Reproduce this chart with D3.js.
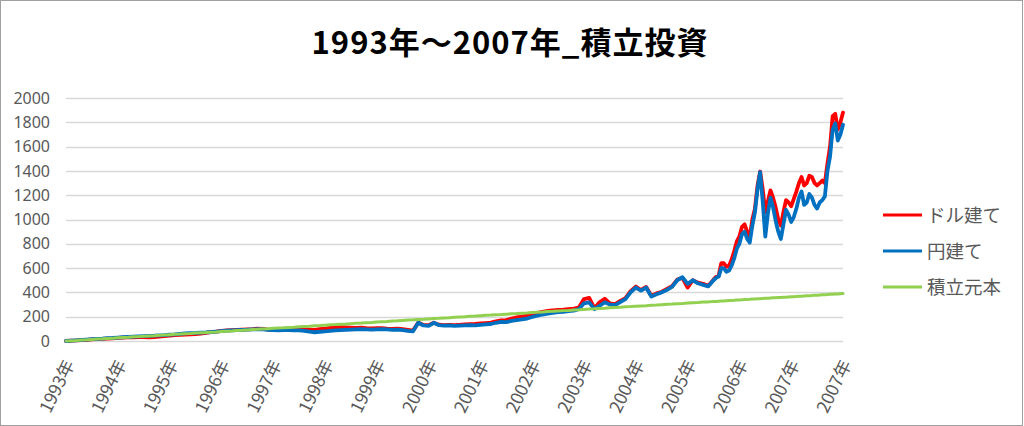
<!DOCTYPE html>
<html><head><meta charset="utf-8">
<script src="https://cdn.jsdelivr.net/npm/d3@7"></script>
<style>html,body{margin:0;padding:0;background:#fff;}svg{display:block;}</style>
</head><body>
<svg id="chart" width="1024" height="426"></svg>
<script>
const titleText = "1993年～2007年_積立投資";
const xTickLabels = ["1993年","1994年","1995年","1996年","1997年","1998年","1999年","2000年","2001年","2002年","2003年","2004年","2005年","2006年","2007年","2007年"];
const yTicks = [0,200,400,600,800,1000,1200,1400,1600,1800,2000];
const seriesNames = ["ドル建て","円建て","積立元本"];
const seriesColors = ["#FF0000","#0070C0","#92D050"];

// samples: indices 0..125 every 0.1 label-interval, then 126..175 every 0.05
const dollarValues = [
0,3,5,8,10,13,15,17,20,22,
25,27,29,31,32,32,31,33,36,40,
45,49,51,53,54,56,61,67,73,78,
84,88,90,92,94,96,98,101,99,94,
92,91,93,95,94,98,96,94,92,98,
102,108,112,114,112,110,108,110,106,104,
106,105,102,100,102,98,92,86,152,132,
130,150,134,130,132,130,133,136,138,140,
144,148,152,162,170,172,185,195,200,210,
222,232,240,248,252,255,258,262,266,275,
345,355,270,318,348,310,304,330,352,410,
448,420,445,372,392,405,428,452,505,520,
440,500,480,470,455,505,
528,540,640,640,610,620,670,740,820,860,
940,960,900,862,1000,1090,1280,1395,1250,1060,
1150,1240,1180,1100,1000,950,1060,1160,1140,1110,
1170,1230,1300,1350,1280,1300,1360,1350,1300,1280,
1300,1320,1300,1460,1600,1850,1870,1740,1800,1880];

const yenValues = [
0,3,6,9,12,15,18,20,23,25,
28,31,34,36,38,40,42,44,47,49,
52,55,59,62,64,66,69,71,74,78,
82,86,88,90,92,93,95,97,96,92,
90,88,89,90,87,88,84,78,72,76,
80,84,88,90,92,94,96,98,96,94,
96,98,95,92,94,90,84,80,150,128,
125,150,130,126,128,124,126,128,130,128,
132,136,140,150,158,156,165,172,178,185,
198,208,218,226,232,238,240,245,250,262,
310,318,262,290,318,300,296,320,345,400,
440,415,440,365,385,400,420,445,500,525,
470,500,475,462,450,500,
520,530,600,598,570,580,620,680,760,800,
880,900,840,810,950,1060,1250,1390,1150,860,
1050,1180,1100,990,900,840,960,1080,1040,980,
1020,1090,1180,1230,1120,1140,1210,1180,1120,1090,
1140,1160,1190,1400,1520,1740,1790,1650,1700,1780];

const principalValues = [
0,3,5,8,10,13,16,18,21,23,
26,29,31,34,36,39,42,44,47,49,
52,55,57,60,62,65,68,70,73,75,
78,81,83,86,88,91,94,96,99,101,
104,107,109,112,114,117,120,122,125,127,
130,133,135,138,140,143,146,148,151,153,
156,159,161,164,166,169,172,174,177,179,
182,185,187,190,192,195,198,200,203,205,
208,211,213,216,218,221,224,226,229,231,
234,237,239,242,244,247,250,252,255,257,
260,263,265,268,270,273,276,278,281,283,
286,289,291,294,296,299,302,304,307,309,
312,315,317,320,322,325,
326,328,329,330,332,333,334,335,337,338,
339,341,342,343,345,346,347,348,350,351,
352,354,355,356,358,359,360,361,363,364,
365,367,368,369,371,372,373,374,376,377,
378,380,381,382,384,385,386,387,389,390];

const svg = d3.select("#chart");
const W = 1024, H = 426;
const plot = {left: 66, right: 843, top: 98, bottom: 341};

svg.append("rect").attr("x",0.5).attr("y",0.5).attr("width",W-2).attr("height",H-1)
  .attr("fill","#fff").attr("stroke","#A0A0A0").attr("stroke-width",1);

const n = yenValues.length;
const xTick = d3.scalePoint().domain(d3.range(xTickLabels.length)).range([plot.left, plot.right]);
const x = d3.scaleLinear().domain([0, 125, n - 1])
  .range([plot.left, plot.left + 12.5 * xTick.step(), plot.right]);
const y = d3.scaleLinear().domain([0, 2000]).range([plot.bottom, plot.top]);

// gridlines
svg.append("g").selectAll("line").data(yTicks).join("line")
  .attr("x1", plot.left).attr("x2", plot.right)
  .attr("y1", d => Math.round(y(d)) + 0.5).attr("y2", d => Math.round(y(d)) + 0.5)
  .attr("stroke", "#D9D9D9").attr("stroke-width", 1.3);

// y axis labels
const yAxis = d3.axisLeft(y).tickValues(yTicks).tickFormat(d3.format("d")).tickSize(0).tickPadding(0);
const yg = svg.append("g").attr("transform", `translate(${plot.left - 16},0)`).call(yAxis);
yg.select(".domain").remove();
yg.selectAll("text").attr("font-family","'Noto Sans','Open Sans',sans-serif").attr("font-size",16).attr("fill","#595959");

// x axis labels
const xAxis = d3.axisBottom(xTick).tickFormat(i => xTickLabels[i]).tickSize(0).tickPadding(0);
const xg = svg.append("g").attr("transform", `translate(0,${plot.bottom + 20})`).call(xAxis);
xg.select(".domain").remove();
xg.selectAll("text")
  .attr("font-family","'Noto Sans CJK JP','Noto Sans',sans-serif").attr("font-size",17.5).attr("fill","#595959")
  .attr("text-anchor","end").attr("dy","0.35em").attr("y",0)
  .attr("transform","translate(3,0) rotate(-64)");

// series
const line = d3.line().x((d,i) => x(i)).y(d => y(d)).curve(d3.curveLinear);
const seriesData = [dollarValues, yenValues, principalValues];
const widths = [3.8, 3.8, 3];
seriesData.forEach((vals, k) => {
  svg.append("path").datum(vals).attr("d", line)
    .attr("fill","none").attr("stroke", seriesColors[k]).attr("stroke-width", widths[k])
    .attr("stroke-linejoin","round").attr("stroke-linecap","round");
});

// legend
const lg = svg.append("g");
seriesNames.forEach((name, k) => {
  const ly = 215 + k * 36;
  lg.append("line").attr("x1", 883).attr("x2", 922).attr("y1", ly).attr("y2", ly)
    .attr("stroke", seriesColors[k]).attr("stroke-width", 3.2);
  lg.append("text").attr("x", 927).attr("y", ly).attr("dy","0.36em")
    .attr("font-family","'Noto Sans CJK JP',sans-serif").attr("font-size",18.5).attr("fill","#595959")
    .text(name);
});

// title
svg.append("text").attr("x", 510).attr("y", 54).attr("text-anchor","middle")
  .attr("font-family","'Noto Sans CJK JP',sans-serif").attr("font-weight","bold")
  .attr("font-size",31).attr("letter-spacing",1).attr("fill","#000").text(titleText);
</script>
</body></html>
